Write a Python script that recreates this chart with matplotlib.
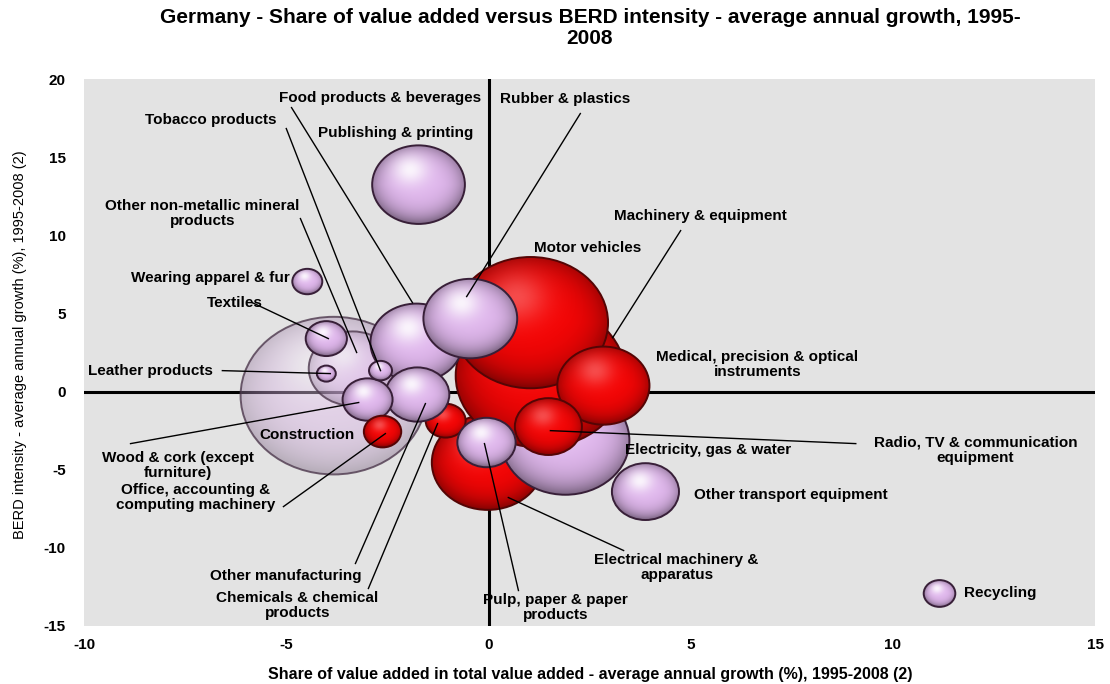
import matplotlib
matplotlib.use('Agg')
import matplotlib.pyplot as plt
from matplotlib.patches import Ellipse
import numpy as np

plt.rcParams['font.family'] = ['Liberation Sans', 'DejaVu Sans']
plt.rcParams['axes.unicode_minus'] = False

# -------------------------
# Data (listed back to front, as the bubbles overlap)
# negative bubble size -> drawn as a hollow / pale bubble
# -------------------------
sectors = ['Construction', 'Other non-metallic mineral products',
           'Electrical machinery & apparatus', 'Electricity, gas & water',
           'Machinery & equipment', 'Chemicals & chemical products',
           'Food products & beverages', 'Motor vehicles',
           'Medical, precision & optical instruments', 'Rubber & plastics',
           'Radio, TV & communication equipment', 'Pulp, paper & paper products',
           'Other manufacturing', 'Wood & cork (except furniture)', 'Textiles',
           'Office, accounting & computing machinery', 'Tobacco products',
           'Leather products', 'Publishing & printing', 'Wearing apparel & fur',
           'Other transport equipment', 'Recycling']
va_growth = [-3.83, -3.36, -0.02, 1.90, 1.29, -1.06, -1.78, 1.04, 2.84, -0.45,
             1.48, -0.05, -1.76, -2.99, -4.01, -2.62, -2.67, -4.01, -1.73,
             -4.48, 3.88, 11.15]
berd_growth = [-0.26, 1.47, -4.54, -3.13, 1.02, -1.86, 3.13, 4.41, 0.38, 4.67,
               -2.24, -3.26, -0.19, -0.51, 3.39, -2.56, 1.34, 1.15, 13.24,
               7.04, -6.40, -12.92]
bubble_size = [-346, -77, 125, 164, 289, 16, 85, 240, 85, 88, 45, 34, 41, 25,
               17, 14, 5.3, 3.6, 86, 9, 45, 10]
high_tech = [False, False, True, False, True, True, False, True, True, False,
             True, False, False, False, False, True, False, False, False,
             False, False, False]

# -------------------------
# Label layout: text position, optional leader line start / end
# -------------------------
labels = {
    'Food products & beverages': ((-2.67, 18.81), (-4.87, 18.17), (-1.88, 5.69)),
    'Tobacco products': ((-6.87, 17.40), (-5.00, 16.83), (-2.67, 1.34)),
    'Publishing & printing': ((-2.30, 16.57), None, None),
    'Rubber & plastics': ((1.90, 18.75), (2.27, 17.79), (-0.54, 6.08)),
    'Other non-metallic mineral\nproducts': ((-7.07, 11.39), (-4.65, 11.07), (-3.26, 2.50)),
    'Machinery & equipment': ((5.24, 11.26), (4.75, 10.30), (3.07, 3.45)),
    'Motor vehicles': ((2.45, 9.21), None, None),
    'Wearing apparel & fur': ((-6.87, 7.29), None, None),
    'Textiles': ((-6.28, 5.69), (-5.84, 5.69), (-3.96, 3.39)),
    'Medical, precision & optical\ninstruments': ((6.65, 1.73), None, None),
    'Leather products': ((-8.36, 1.34), (-6.58, 1.34), (-3.91, 1.15)),
    'Construction': ((-4.48, -2.75), None, None),
    'Radio, TV & communication\nequipment': ((12.04, -3.77), (9.08, -3.33), (1.53, -2.50)),
    'Electricity, gas & water': ((5.44, -3.77), None, None),
    'Wood & cork (except\nfurniture)': ((-7.69, -4.73), (-8.85, -3.33), (-3.21, -0.70)),
    'Other transport equipment': ((7.47, -6.59), None, None),
    'Office, accounting &\ncomputing machinery': ((-7.25, -6.78), (-5.07, -7.36), (-2.55, -2.69)),
    'Electrical machinery &\napparatus': ((4.65, -11.26), (3.34, -10.17), (0.49, -6.78)),
    'Other manufacturing': ((-5.02, -11.77), (-3.29, -11.00), (-1.56, -0.77)),
    'Chemicals & chemical\nproducts': ((-4.72, -13.69), (-2.97, -12.60), (-1.26, -2.05)),
    'Pulp, paper & paper\nproducts': ((1.66, -13.82), (0.74, -12.73), (-0.10, -3.33)),
    'Recycling': ((12.66, -12.86), None, None),
}


def sphere_image(base, spec, alpha, n=160):
    v, u = np.meshgrid(np.linspace(-1, 1, n), np.linspace(-1, 1, n), indexing='ij')
    r = np.sqrt(u ** 2 + v ** 2)
    rc = np.clip(r, 0, 1)
    d = np.sqrt((u + 0.18) ** 2 + (v - 0.38) ** 2)
    shade = 1 - 0.32 * rc ** 4 - 0.15 * np.clip(-v, 0, 1) * rc
    col = np.array(base)[None, None, :] * shade[..., None]
    s = spec * np.exp(-(d / 0.38) ** 2)
    col = col * (1 - s[..., None]) + s[..., None]
    a = np.where(r <= 1.02, alpha, 0.0)
    return np.dstack([np.clip(col, 0, 1), a])


# -------------------------
# Figure
# -------------------------
fig = plt.figure(figsize=(11.1, 6.84), dpi=100)
ax_pos = [0.0757, 0.0848, 0.911, 0.7997]
ax = fig.add_axes(ax_pos)
ax.set_facecolor('#e3e3e3')
xmin, xmax, ymin, ymax = -10, 15, -15, 20
px_x = ax_pos[2] * 1110 / (xmax - xmin)
px_y = ax_pos[3] * 684 / (ymax - ymin)

ax.axhline(0, color='black', lw=2.2, zorder=1)
ax.axvline(0, color='black', lw=2.2, zorder=1)

lavender = (0.88, 0.72, 0.93)
red = (0.96, 0.02, 0.02)

for i, (x, y, s, ht) in enumerate(zip(va_growth, berd_growth, bubble_size, high_tech)):
    d = 10 * np.sqrt(abs(s))
    w = d / px_x
    h = d / 1.18 / px_y
    z = 2 + i * 0.1
    hollow = s < 0
    if ht:
        img = sphere_image(red, 0.28, 1.0)
        edge = (0.33, 0.02, 0.02)
    else:
        img = sphere_image(lavender, 0.85, 0.42 if hollow else 1.0)
        edge = (0.30, 0.22, 0.30) if hollow else (0.22, 0.12, 0.22)
    ell = Ellipse((x, y), w, h, facecolor='none', edgecolor=edge,
                  lw=1.4, zorder=z + 0.05, alpha=0.8 if hollow else 1.0)
    ax.add_patch(ell)
    im = ax.imshow(img, extent=[x - w / 2, x + w / 2, y - h / 2, y + h / 2],
                   origin='lower', aspect='auto', interpolation='bilinear', zorder=z)
    im.set_clip_path(ell)

for text, (pos, start, end) in labels.items():
    ax.text(pos[0], pos[1], text, ha='center', va='center', fontsize=11,
            fontweight='bold', multialignment='center', linespacing=1.15, zorder=60)
    if start is not None:
        ax.plot([start[0], end[0]], [start[1], end[1]], color='black', lw=1.0, zorder=55)

ax.set_xlim(xmin, xmax)
ax.set_ylim(ymin, ymax)
ax.set_xticks(range(-10, 16, 5))
ax.set_yticks(range(-15, 21, 5))
ax.tick_params(length=0, labelsize=11)
ax.tick_params(axis='y', pad=13)
ax.tick_params(axis='x', pad=9)
for lab in ax.get_xticklabels() + ax.get_yticklabels():
    lab.set_fontweight('bold')
for sp in ax.spines.values():
    sp.set_visible(False)

fig.text(0.5315, 0.988, 'Germany - Share of value added versus BERD intensity - average annual growth, 1995-\n2008',
         ha='center', va='top', fontsize=15, fontweight='bold', linespacing=1.15)
fig.text(0.5315, 1 - 674 / 684,
         'Share of value added in total value added - average annual growth (%), 1995-2008 (2)',
         ha='center', va='center', fontsize=11.5, fontweight='bold')
fig.text(20 / 1110, 1 - 345 / 684, 'BERD intensity - average annual growth (%), 1995-2008 (2)',
         ha='center', va='center', rotation=90, fontsize=10.5)

fig.savefig('out.png', dpi=100)
